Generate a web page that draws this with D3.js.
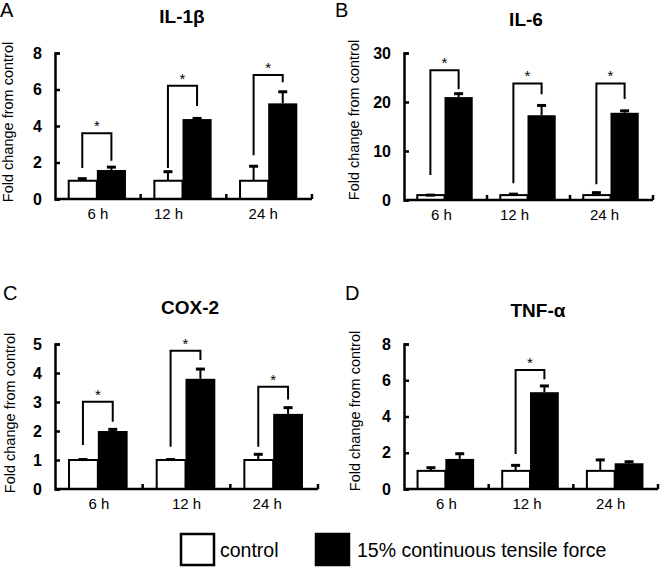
<!DOCTYPE html>
<html><head><meta charset="utf-8">
<script src="https://cdn.jsdelivr.net/npm/d3@7"></script>
<style>body{margin:0;background:#fff}</style>
</head><body>
<svg id="chart" width="662" height="569"></svg>
<script>
const categories = ["6 h", "12 h", "24 h"];
const seriesNames = ["control", "15% continuous tensile force"];

const il1bControl = [1.0, 1.0, 1.0];
const il1bControlErr = [0.17, 0.55, 0.85];
const il1bForce = [1.59, 4.38, 5.24];
const il1bForceErr = [0.21, 0.09, 0.69];
const il1bBrackets = [[3.6, 1.7, 2.1], [6.2, 1.7, 5.1], [6.8, 2.4, 6.4]];
const il1bTicks = [0, 2, 4, 6, 8];

const il6Control = [1.0, 1.0, 1.0];
const il6ControlErr = [0.2, 0.4, 0.7];
const il6Force = [21.0, 17.3, 17.8];
const il6ForceErr = [0.9, 2.2, 0.6];
const il6Brackets = [[26.5, 5.1, 22.6], [23.8, 3.4, 21.6], [23.8, 3.2, 20.6]];
const il6Ticks = [0, 10, 20, 30];

const cox2Control = [1.0, 1.0, 1.0];
const cox2ControlErr = [0.05, 0.05, 0.23];
const cox2Force = [2.0, 3.8, 2.59];
const cox2ForceErr = [0.09, 0.37, 0.25];
const cox2Brackets = [[3.01, 1.52, 2.32], [4.77, 1.46, 4.45], [3.53, 1.46, 3.09]];
const cox2Ticks = [0, 1, 2, 3, 4, 5];

const tnfControl = [1.0, 1.0, 1.0];
const tnfControlErr = [0.23, 0.36, 0.66];
const tnfForce = [1.66, 5.34, 1.42];
const tnfForceErr = [0.34, 0.4, 0.14];
const tnfBrackets = [null, [6.57, 1.93, 6.06], null];
const tnfTicks = [0, 2, 4, 6, 8];

const FONT = "'Liberation Sans', Arial, Helvetica, sans-serif";

const panels = [
  {letter: "A", title: "IL-1β", lx: 0, ly: 17, tx: 182, ty: 23, x0: 55, x1: 312, yTop: 53, yBot: 199,
   ticks: il1bTicks, ctrl: il1bControl, ctrlErr: il1bControlErr, force: il1bForce, forceErr: il1bForceErr,
   brackets: il1bBrackets, labelShift: [0, -15, -6], ylabX: 13, ylabY: 122},
  {letter: "B", title: "IL-6", lx: 335, ly: 17, tx: 526, ty: 26, x0: 404, x1: 653, yTop: 53, yBot: 200,
   ticks: il6Ticks, ctrl: il6Control, ctrlErr: il6ControlErr, force: il6Force, forceErr: il6ForceErr,
   brackets: il6Brackets, labelShift: [-4, -14, -7], ylabX: 359, ylabY: 120},
  {letter: "C", title: "COX-2", lx: 3, ly: 300, tx: 190, ty: 314, x0: 55, x1: 318, yTop: 344, yBot: 489,
   ticks: cox2Ticks, ctrl: cox2Control, ctrlErr: cox2ControlErr, force: cox2Force, forceErr: cox2ForceErr,
   brackets: cox2Brackets, labelShift: [0, 0, -7], ylabX: 15, ylabY: 413},
  {letter: "D", title: "TNF-α", lx: 345, ly: 300, tx: 538, ty: 317, x0: 404, x1: 658, yTop: 344, yBot: 489,
   ticks: tnfTicks, ctrl: tnfControl, ctrlErr: tnfControlErr, force: tnfForce, forceErr: tnfForceErr,
   brackets: tnfBrackets, labelShift: [0, -4, -5], ylabX: 360, ylabY: 411}
];

const svg = d3.select("#chart");
svg.append("rect").attr("width", 662).attr("height", 569).attr("fill", "#fff");

panels.forEach(p => {
  const g = svg.append("g");
  const y = d3.scaleLinear().domain([0, d3.max(p.ticks)]).range([p.yBot, p.yTop]);
  const x = d3.scaleBand().domain(categories).range([p.x0, p.x1]);
  const bw = x.bandwidth();
  const pairW = bw * 0.68;
  const sub = d3.scaleBand().domain(seriesNames).range([0, pairW]);
  const bx = (c, s) => x(c) + (bw - pairW) / 2 - 1 + sub(s);
  const barW = sub.bandwidth();

  g.append("text").attr("x", p.lx).attr("y", p.ly).text(p.letter)
    .attr("font-family", FONT).attr("font-size", 20).attr("fill", "#000");
  g.append("text").attr("x", p.tx).attr("y", p.ty).text(p.title)
    .attr("text-anchor", "middle").attr("font-family", FONT).attr("font-weight", "bold")
    .attr("font-size", 19).attr("fill", "#000");

  g.append("text").attr("transform", `translate(${p.ylabX},${p.ylabY}) rotate(-90)`)
    .attr("text-anchor", "middle").attr("font-family", FONT).attr("font-size", 14.5)
    .attr("fill", "#000").text("Fold change from control");

  const rows = categories.map((c, i) => ({c, i}));

  g.selectAll(".ctrl").data(rows).join("rect")
    .attr("x", d => bx(d.c, seriesNames[0]) + 1).attr("width", barW - 1)
    .attr("y", d => y(p.ctrl[d.i])).attr("height", d => y(0) - y(p.ctrl[d.i]))
    .attr("fill", "#fff").attr("stroke", "#000").attr("stroke-width", 2);
  g.selectAll(".force").data(rows).join("rect")
    .attr("x", d => bx(d.c, seriesNames[1])).attr("width", barW)
    .attr("y", d => y(p.force[d.i])).attr("height", d => y(0) - y(p.force[d.i]))
    .attr("fill", "#000");

  const errs = [];
  rows.forEach(d => {
    errs.push({cx: bx(d.c, seriesNames[0]) + barW / 2, v: p.ctrl[d.i], e: p.ctrlErr[d.i]});
    errs.push({cx: bx(d.c, seriesNames[1]) + barW / 2, v: p.force[d.i], e: p.forceErr[d.i]});
  });
  errs.forEach(e => {
    g.append("line").attr("x1", e.cx).attr("x2", e.cx).attr("y1", y(e.v)).attr("y2", y(e.v + e.e))
      .attr("stroke", "#000").attr("stroke-width", 2);
    g.append("line").attr("x1", e.cx - 4.5).attr("x2", e.cx + 4.5)
      .attr("y1", y(e.v + e.e) + 1).attr("y2", y(e.v + e.e) + 1)
      .attr("stroke", "#000").attr("stroke-width", 3);
  });

  rows.forEach(d => {
    const b = p.brackets[d.i];
    if (!b) return;
    const xl = bx(d.c, seriesNames[0]) + barW / 2;
    const xr = bx(d.c, seriesNames[1]) + barW / 2;
    g.append("path")
      .attr("d", `M${xl},${y(b[1])}V${y(b[0])}H${xr}V${y(b[2])}`)
      .attr("fill", "none").attr("stroke", "#000").attr("stroke-width", 2);
    g.append("text").attr("x", (xl + xr) / 2).attr("y", y(b[0]) - 2).text("*")
      .attr("text-anchor", "middle").attr("font-family", FONT).attr("font-size", 15).attr("fill", "#000");
  });

  const yAxis = d3.axisLeft(y).tickValues(p.ticks).tickFormat(d3.format("d"))
    .tickSizeInner(-5).tickSizeOuter(-5).tickPadding(13);
  const ya = g.append("g").attr("transform", `translate(${p.x0},0)`).call(yAxis);
  ya.select(".domain").attr("stroke-width", 2.5);
  ya.selectAll(".tick line").attr("stroke-width", 2.5);
  ya.selectAll(".tick text").attr("font-family", FONT).attr("font-weight", "bold")
    .attr("font-size", 16).attr("fill", "#000");

  g.append("line").attr("x1", p.x0).attr("x2", p.x1).attr("y1", y(0)).attr("y2", y(0))
    .attr("stroke", "#000").attr("stroke-width", 2.5);
  categories.forEach((c, i) => {
    const xe = x(c) + bw;
    g.append("line").attr("x1", xe).attr("x2", xe).attr("y1", y(0)).attr("y2", y(0) - 5)
      .attr("stroke", "#000").attr("stroke-width", 2.5);
    g.append("text").attr("x", x(c) + bw / 2 + p.labelShift[i]).attr("y", y(0) + 20).text(c)
      .attr("text-anchor", "middle").attr("font-family", FONT).attr("font-size", 15).attr("fill", "#000");
  });
});

const legend = svg.append("g");
const legendItems = [
  {name: seriesNames[0], fill: "#fff", bx: 181, tx: 220},
  {name: seriesNames[1], fill: "#000", bx: 316, tx: 357}
];
legendItems.forEach(it => {
  legend.append("rect").attr("x", it.bx).attr("y", 534).attr("width", 33).attr("height", 31)
    .attr("fill", it.fill).attr("stroke", "#000").attr("stroke-width", 2.5);
  legend.append("text").attr("x", it.tx).attr("y", 557).text(it.name)
    .attr("font-family", FONT).attr("font-size", 19.5).attr("fill", "#000");
});
</script>
</body></html>
